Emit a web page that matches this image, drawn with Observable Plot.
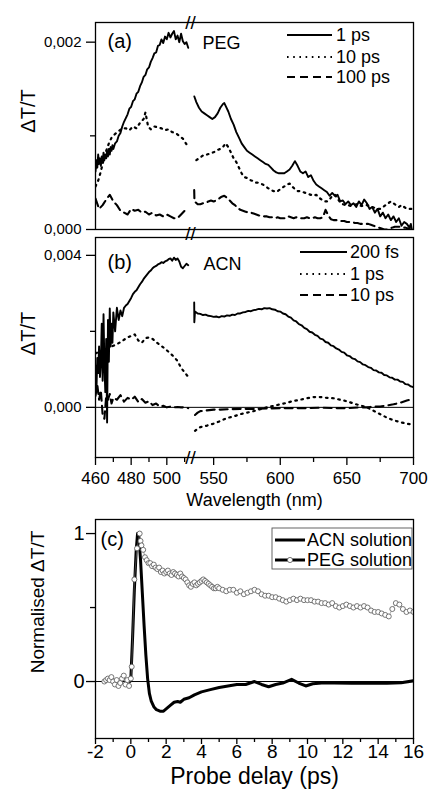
<!DOCTYPE html>
<html><head><meta charset="utf-8">
<script src="https://cdn.jsdelivr.net/npm/d3@7"></script>
<script src="https://cdn.jsdelivr.net/npm/@observablehq/plot@0.6"></script>
<style>
body{margin:0;background:#fff;}
#fig{position:relative;width:432px;height:789px;font-family:"Liberation Sans",Arial,Helvetica,sans-serif;}
#fig svg{display:block;overflow:visible;}
</style></head><body><div id="fig"></div>
<script>
// ---------- DATA (ΔT/T values in units of 10^-3; wavelength in nm; delay in ps) ----------
// Panel (a) PEG, left segment (<513 nm) and right segment (>533 nm)
const peg1ps_L = [[460,0.62],[460.5,0.74],[461,0.66],[461.5,0.80],[462,0.70],[462.5,0.76],[463,0.68],[463.5,0.78],[464,0.72],[464.5,0.82],[465,0.74],[465.5,0.80],[466,0.76],[466.5,0.84],[467,0.78],[467.5,0.86],[468,0.80],[468.5,0.88],[469,0.84],[469.5,0.90],[470,0.86],[471,0.92],[472,0.94],[473,1.00],[474,1.03],[475,1.10],[476,1.15],[477,1.19],[478,1.23],[479,1.29],[480,1.31],[481,1.37],[482,1.39],[483,1.45],[484,1.47],[485,1.53],[486,1.57],[487,1.63],[488,1.65],[489,1.71],[490,1.73],[491,1.79],[492,1.83],[493,1.88],[494,1.89],[495,1.96],[496,1.97],[497,2.03],[498,1.99],[499,2.06],[500,2.03],[501,2.10],[502,2.05],[503,2.09],[504,2.12],[505,2.03],[506,2.07],[507,2.00],[508,2.09],[509,2.01],[510,1.98],[511,2.00],[512,1.94]];
const peg1ps_R = [[535.5,1.42],[537,1.36],[539,1.30],[541,1.26],[543,1.24],[545,1.22],[547,1.20],[549,1.18],[551,1.20],[553,1.24],[555,1.30],[557,1.34],[558,1.35],[559,1.32],[561,1.26],[563,1.18],[565,1.12],[567,1.04],[569,0.98],[571,0.92],[573,0.88],[575,0.84],[577,0.82],[579,0.80],[581,0.78],[583,0.76],[585,0.74],[587,0.72],[589,0.70],[591,0.69],[593,0.66],[595,0.63],[597,0.61],[599,0.60],[601,0.60],[603,0.60],[605,0.62],[607,0.64],[609,0.68],[611,0.73],[613,0.68],[615,0.62],[617,0.60],[619,0.62],[621,0.56],[623,0.58],[625,0.52],[627,0.48],[629,0.46],[631,0.44],[633,0.42],[635,0.40],[637,0.36],[639,0.39],[641,0.36],[643,0.37],[645,0.30],[647,0.31],[649,0.27],[651,0.30],[653,0.26],[655,0.28],[657,0.24],[659,0.30],[661,0.26],[663,0.32],[665,0.28],[667,0.22],[669,0.24],[671,0.18],[673,0.22],[675,0.14],[677,0.18],[679,0.12],[681,0.16],[683,0.10],[685,0.14],[687,0.08],[689,0.12],[691,0.04],[693,0.08],[695,0.06],[697,0.02],[698,0.06],[699,-0.02],[700,-0.06]];
const peg10ps_L = [[460,0.46],[461.5,0.52],[463,0.62],[464.5,0.74],[466,0.84],[467.5,0.92],[469,0.98],[471,1.02],[473,1.05],[475,1.08],[477,1.08],[479,1.06],[481,1.10],[483,1.08],[485,1.14],[487,1.18],[488,1.25],[489.5,1.10],[491,1.07],[493,1.10],[495,1.09],[497,1.08],[499,1.06],[501,1.07],[503,1.04],[505,1.03],[507,1.00],[509,0.97],[511,0.91]];
const peg10ps_R = [[537,0.74],[539,0.76],[541,0.78],[543,0.80],[545,0.80],[547,0.81],[549,0.82],[551,0.83],[553,0.85],[555,0.86],[557,0.88],[559,0.92],[561,0.88],[563,0.82],[565,0.76],[567,0.72],[569,0.66],[571,0.60],[573,0.56],[575,0.55],[577,0.53],[579,0.52],[581,0.50],[583,0.50],[585,0.49],[587,0.48],[589,0.46],[591,0.44],[593,0.42],[595,0.41],[597,0.40],[599,0.42],[601,0.44],[603,0.46],[605,0.48],[607,0.49],[609,0.46],[611,0.43],[613,0.41],[615,0.41],[617,0.40],[619,0.39],[621,0.38],[623,0.37],[625,0.36],[627,0.37],[629,0.34],[631,0.32],[633,0.30],[635,0.30],[637,0.32],[639,0.36],[641,0.37],[643,0.33],[645,0.29],[647,0.27],[649,0.26],[651,0.26],[653,0.25],[655,0.26],[657,0.27],[659,0.26],[661,0.25],[663,0.26],[665,0.26],[667,0.25],[669,0.24],[671,0.23],[673,0.22],[675,0.22],[677,0.24],[679,0.26],[681,0.28],[683,0.30],[685,0.28],[687,0.26],[689,0.24],[691,0.26],[693,0.24],[695,0.22],[697,0.22],[699,0.22],[700,0.20]];
const peg100ps_L = [[460,0.33],[462,0.22],[464,0.26],[466,0.32],[468,0.37],[470,0.30],[472,0.26],[474,0.20],[476,0.18],[478,0.16],[480,0.22],[482,0.20],[484,0.21],[486,0.18],[488,0.19],[490,0.16],[492,0.18],[494,0.15],[496,0.16],[498,0.14],[500,0.16],[502,0.14],[504,0.12],[506,0.12],[508,0.16],[510,0.20],[511.5,0.24]];
const peg100ps_R = [[535.4,0.42],[535.6,0.30],[538,0.27],[540,0.27],[542,0.28],[544,0.28],[546,0.30],[548,0.31],[550,0.30],[552,0.31],[554,0.33],[556,0.35],[558,0.36],[560,0.34],[562,0.31],[564,0.28],[566,0.26],[568,0.23],[570,0.21],[572,0.20],[574,0.19],[576,0.18],[578,0.18],[580,0.17],[582,0.16],[584,0.15],[586,0.15],[588,0.14],[590,0.14],[592,0.13],[594,0.13],[596,0.12],[598,0.13],[600,0.12],[602,0.12],[604,0.12],[606,0.14],[608,0.13],[610,0.12],[612,0.13],[614,0.12],[616,0.12],[618,0.12],[620,0.13],[622,0.12],[624,0.12],[626,0.13],[628,0.12],[630,0.12],[632,0.13],[634,0.21],[636,0.15],[638,0.11],[640,0.10],[642,0.10],[644,0.10],[646,0.09],[648,0.09],[650,0.08],[652,0.08],[654,0.08],[656,0.07],[658,0.07],[660,0.06],[662,0.06],[664,0.06],[666,0.06],[668,0.05],[670,0.04],[672,0.03],[674,0.02],[676,0.01],[678,0.00],[680,0.00],[682,0.01],[684,0.02],[686,0.03],[688,0.03],[690,0.03],[692,0.02],[694,0.02],[696,0.01],[698,0.00],[700,-0.02]];

// Panel (b) ACN
const acn200fs_L = [[460,1.10],[460.5,0.40],[461,1.30],[461.5,0.90],[462,1.60],[462.5,0.80],[463,1.20],[463.5,2.20],[464,0.70],[464.5,2.45],[465,1.10],[465.5,0.40],[466,1.80],[466.5,-0.40],[467,2.30],[467.5,1.20],[468,2.60],[468.5,1.60],[469,2.20],[469.5,1.70],[470,2.50],[471,2.00],[472,2.62],[473,2.30],[474,2.55],[475,2.40],[476,2.62],[477,2.68],[478,2.72],[479,2.80],[480,2.88],[481,2.98],[482,3.04],[483,3.08],[484,3.16],[485,3.24],[486,3.30],[487,3.38],[488,3.44],[489,3.50],[490,3.56],[491,3.60],[492,3.66],[493,3.70],[494,3.72],[495,3.76],[496,3.78],[497,3.82],[498,3.80],[499,3.84],[500,3.86],[501,3.90],[502,3.92],[503,3.86],[504,3.94],[505,3.88],[506,3.92],[507,3.84],[508,3.70],[509,3.66],[510,3.72],[511,3.78],[512,3.74]];
const acn200fs_R = [[535.4,2.76],[535.5,2.24],[536,2.52],[538,2.47],[540,2.46],[542,2.43],[544,2.44],[546,2.41],[548,2.40],[550,2.38],[552,2.39],[554,2.37],[556,2.40],[558,2.39],[560,2.42],[562,2.41],[564,2.44],[566,2.43],[568,2.47],[570,2.47],[572,2.50],[574,2.51],[576,2.54],[578,2.53],[580,2.56],[582,2.57],[584,2.59],[586,2.58],[588,2.61],[590,2.60],[592,2.61],[594,2.58],[596,2.57],[598,2.53],[600,2.52],[602,2.47],[604,2.45],[606,2.39],[608,2.36],[610,2.29],[612,2.26],[614,2.19],[616,2.16],[618,2.09],[620,2.06],[622,1.99],[624,1.97],[626,1.91],[628,1.88],[630,1.81],[632,1.79],[634,1.72],[636,1.70],[638,1.63],[640,1.61],[642,1.55],[644,1.52],[646,1.46],[648,1.44],[650,1.37],[652,1.35],[654,1.29],[656,1.27],[658,1.21],[660,1.19],[662,1.13],[664,1.11],[666,1.06],[668,1.04],[670,0.98],[672,0.97],[674,0.92],[676,0.91],[678,0.85],[680,0.84],[682,0.79],[684,0.78],[686,0.73],[688,0.73],[690,0.68],[692,0.67],[694,0.61],[696,0.60],[698,0.55],[700,0.53]];
const acn1ps_L = [[460,1.42],[462,1.46],[464,1.50],[466,1.54],[468,1.58],[470,1.62],[472,1.66],[474,1.72],[476,1.78],[478,1.84],[480,1.88],[482,1.92],[484,1.76],[486,1.70],[488,1.82],[490,1.84],[492,1.80],[494,1.72],[496,1.65],[498,1.58],[500,1.50],[502,1.42],[504,1.33],[506,1.22],[508,1.04],[510,0.92],[512,0.80]];
const acn1ps_R = [[536,-0.62],[538,-0.56],[540,-0.52],[545,-0.48],[550,-0.43],[555,-0.36],[560,-0.28],[565,-0.24],[570,-0.18],[575,-0.14],[580,-0.10],[585,-0.05],[590,0.00],[595,0.04],[600,0.08],[605,0.12],[610,0.17],[615,0.20],[620,0.24],[625,0.27],[630,0.27],[635,0.25],[640,0.24],[645,0.20],[650,0.16],[655,0.10],[660,0.05],[665,0.00],[670,-0.09],[675,-0.18],[680,-0.27],[685,-0.34],[690,-0.39],[695,-0.43],[700,-0.46]];
const acn10ps_L = [[460,0.30],[461,0.60],[462,0.20],[463,0.45],[464,-0.20],[465,-0.30],[466,0.30],[467,0.20],[468,0.35],[469,0.10],[470,0.25],[472,0.20],[474,0.32],[476,0.15],[478,0.25],[480,0.20],[482,0.28],[484,0.14],[486,0.22],[488,0.12],[490,0.16],[492,0.06],[494,0.10],[496,0.02],[498,0.04],[500,0.00],[502,0.02],[504,0.00],[506,0.01],[508,0.00],[510,0.00],[512,-0.02]];
const acn10ps_R = [[536,-0.20],[538,-0.14],[540,-0.10],[545,-0.08],[550,-0.06],[555,-0.06],[560,-0.05],[570,-0.04],[580,-0.04],[590,-0.03],[600,-0.02],[610,-0.02],[620,-0.02],[630,-0.01],[640,-0.02],[650,-0.02],[660,0.00],[665,0.00],[670,0.02],[675,0.02],[680,0.05],[685,0.08],[690,0.12],[695,0.18],[700,0.22]];

// Panel (c) normalised kinetics
const acnKin = [[-0.05,0],[0,0.02],[0.1,0.3],[0.2,0.62],[0.3,0.88],[0.38,1.0],[0.45,0.98],[0.55,0.82],[0.65,0.6],[0.75,0.38],[0.85,0.18],[0.95,0.02],[1.05,-0.08],[1.15,-0.13],[1.3,-0.17],[1.45,-0.19],[1.65,-0.2],[1.85,-0.2],[2.05,-0.18],[2.25,-0.16],[2.45,-0.14],[2.65,-0.135],[2.8,-0.14],[3.0,-0.12],[3.3,-0.11],[3.6,-0.09],[4.0,-0.07],[4.5,-0.055],[5.0,-0.04],[5.5,-0.03],[6.0,-0.02],[6.5,-0.02],[7.0,0.0],[7.4,-0.02],[7.8,-0.035],[8.2,-0.02],[8.6,-0.01],[9.1,0.015],[9.5,-0.01],[9.9,-0.03],[10.3,-0.015],[10.8,-0.01],[11.5,-0.01],[12.5,-0.012],[13.5,-0.01],[14.5,-0.012],[15.3,-0.008],[16,0.005]];
const pegKin = [[-1.5,0.0],[-1.4,0.01],[-1.3,0.02],[-1.2,0.01],[-1.1,0.03],[-1.0,0.0],[-0.9,-0.02],[-0.8,0.01],[-0.7,-0.03],[-0.6,-0.01],[-0.5,0.02],[-0.4,0.04],[-0.3,-0.02],[-0.2,0.01],[-0.1,-0.03],[0.0,0.02],[0.05,0.1],[0.2,0.69],[0.35,0.9],[0.5,1.0],[0.55,0.95],[0.6,0.92],[0.7,0.89],[0.8,0.84],[0.9,0.82],[1.0,0.80],[1.1,0.80],[1.2,0.78],[1.3,0.79],[1.4,0.77],[1.5,0.76],[1.6,0.77],[1.7,0.74],[1.8,0.75],[1.9,0.73],[2.0,0.74],[2.1,0.75],[2.2,0.73],[2.3,0.72],[2.4,0.74],[2.5,0.73],[2.6,0.72],[2.7,0.71],[2.8,0.73],[2.9,0.71],[3.0,0.70],[3.1,0.69],[3.2,0.67],[3.3,0.65],[3.4,0.64],[3.5,0.66],[3.6,0.67],[3.7,0.65],[3.8,0.66],[3.9,0.67],[4.0,0.68],[4.1,0.69],[4.2,0.68],[4.3,0.67],[4.4,0.66],[4.5,0.65],[4.6,0.64],[4.7,0.63],[4.8,0.63],[4.9,0.64],[5.0,0.63],[5.2,0.62],[5.4,0.61],[5.6,0.62],[5.8,0.62],[6.0,0.60],[6.2,0.61],[6.4,0.59],[6.6,0.60],[6.8,0.61],[7.0,0.62],[7.2,0.61],[7.4,0.59],[7.6,0.58],[7.8,0.58],[8.0,0.57],[8.2,0.57],[8.4,0.56],[8.6,0.55],[8.8,0.54],[9.0,0.55],[9.2,0.56],[9.4,0.55],[9.6,0.56],[9.8,0.55],[10.0,0.55],[10.2,0.55],[10.4,0.54],[10.6,0.54],[10.8,0.53],[11.0,0.53],[11.2,0.52],[11.4,0.53],[11.6,0.51],[11.8,0.50],[12.0,0.51],[12.2,0.52],[12.4,0.51],[12.6,0.50],[12.8,0.51],[13.0,0.50],[13.2,0.51],[13.4,0.50],[13.6,0.48],[13.8,0.47],[14.0,0.47],[14.2,0.46],[14.4,0.45],[14.6,0.44],[14.8,0.49],[15.0,0.53],[15.2,0.52],[15.4,0.49],[15.6,0.47],[15.8,0.48],[16.0,0.47]];

// Ticks and labels
const wlMajor = [460,480,500,550,600,650,700];
const wlMinor = [470,490,510,575,625,675];
const aYMajor = [0,2], aYMinor = [1];
const bYMajor = [0,4], bYMinor = [2];
const cYMajor = [0,1], cYMinor = [0.5];
const cXMajor = [-2,0,2,4,6,8,10,12,14,16];
const cXMinor = [-1,1,3,5,7,9,11,13,15];
const legendA = ["1 ps","10 ps","100 ps"];
const legendB = ["200 fs","1 ps","10 ps"];
const legendC = ["ACN solution","PEG solution"];

// ---------- DRAWING ----------
const FONT = '"Liberation Sans", Arial, Helvetica, sans-serif';
const fmtDT = v => (v/1000).toFixed(3).replace(".", ",");
const xWl = {type:"linear", domain:[460,513,533,700], range:[95,189.5,190.5,413], axis:null};
const STY = {background:"transparent", overflow:"visible", fontFamily:FONT, color:"black"};
const styles = {
  solid: {strokeWidth:1.9},
  dotted: {strokeWidth:2.2, strokeDasharray:"1.6,4.6"},
  dashed: {strokeWidth:2.1, strokeDasharray:"8,5"}
};
const ln = (data, s) => Plot.line(data, {x:d=>d[0], y:d=>d[1], stroke:"black", clip:true, ...styles[s]});
const brk = (anchor, dy=0) => Plot.text([523], {x:d=>d, text:()=>"//", frameAnchor:anchor, lineAnchor:"middle", dy, fontSize:19, fill:"black"});

function legend(svg, labels, kinds, x0, x1, xt, ys) {
  const g = d3.select(svg).append("g").attr("font-family", FONT).attr("font-size", 18).attr("text-anchor", "start");
  labels.forEach((lab, i) => {
    const k = styles[kinds[i]];
    g.append("line").attr("x1", x0).attr("x2", x1).attr("y1", ys[i]).attr("y2", ys[i])
      .attr("stroke", "black").attr("stroke-width", k.strokeWidth)
      .attr("stroke-dasharray", k.strokeDasharray || null);
    g.append("text").attr("x", xt).attr("y", ys[i]).attr("dy", "0.35em").attr("text-anchor", "start").text(lab);
  });
}

const fig = document.getElementById("fig");

// Panel (a)
const plotA = Plot.plot({
  width:432, height:232, marginLeft:95, marginRight:19, marginTop:22, marginBottom:3,
  style:STY, x:xWl, y:{domain:[0,2.21]},
  marks:[
    ln(peg100ps_L,"dashed"), ln(peg100ps_R,"dashed"),
    ln(peg10ps_L,"dotted"), ln(peg10ps_R,"dotted"),
    ln(peg1ps_L,"solid"), ln(peg1ps_R,"solid"),
    Plot.frame({stroke:"black", strokeWidth:1.3}),
    Plot.axisY({ticks:aYMajor, tickSize:9, tickPadding:5, tickFormat:fmtDT, fontSize:15, strokeWidth:1.3, label:null}),
    Plot.axisY({ticks:aYMinor, tickSize:5, text:null, strokeWidth:1.3, label:null}),
    Plot.text(["ΔT/T"], {frameAnchor:"left", dx:-67, dy:-15, rotate:-90, fontSize:20, textAnchor:"middle", lineAnchor:"middle"}),
    Plot.text(["(a)"], {frameAnchor:"top-left", dx:12, dy:19, fontSize:20, textAnchor:"start", lineAnchor:"middle"}),
    Plot.text(["PEG"], {frameAnchor:"top-left", dx:107, dy:21, fontSize:18, textAnchor:"start", lineAnchor:"middle"}),
    brk("top"), brk("bottom", 4)
  ]
});
legend(plotA, legendA, ["solid","dotted","dashed"], 287, 332, 336, [35,57,77]);
fig.appendChild(plotA);

// Panel (b)
const plotB = Plot.plot({
  width:432, height:280, marginLeft:95, marginRight:19, marginTop:5, marginBottom:55,
  style:STY, x:xWl, y:{domain:[-1.32,4.47]},
  marks:[
    Plot.ruleY([0], {stroke:"black", strokeWidth:1}),
    ln(acn10ps_L,"dashed"), ln(acn10ps_R,"dashed"),
    ln(acn1ps_L,"dotted"), ln(acn1ps_R,"dotted"),
    ln(acn200fs_L,"solid"), ln(acn200fs_R,"solid"),
    Plot.frame({stroke:"black", strokeWidth:1.3}),
    Plot.axisY({ticks:bYMajor, tickSize:9, tickPadding:5, tickFormat:fmtDT, fontSize:15, strokeWidth:1.3, label:null}),
    Plot.axisY({ticks:bYMinor, tickSize:5, text:null, strokeWidth:1.3, label:null}),
    Plot.axisX({ticks:wlMajor, tickSize:8, tickPadding:6, tickFormat:d=>String(d), fontSize:17, strokeWidth:1.3, label:null}),
    Plot.axisX({ticks:wlMinor, tickSize:5, text:null, strokeWidth:1.3, label:null}),
    Plot.text(["ΔT/T"], {frameAnchor:"left", dx:-67, dy:-14, rotate:-90, fontSize:20, textAnchor:"middle", lineAnchor:"middle"}),
    Plot.text(["Wavelength (nm)"], {frameAnchor:"bottom", dy:43, fontSize:18, textAnchor:"middle", lineAnchor:"middle"}),
    Plot.text(["(b)"], {frameAnchor:"top-left", dx:12, dy:25, fontSize:20, textAnchor:"start", lineAnchor:"middle"}),
    Plot.text(["ACN"], {frameAnchor:"top-left", dx:108, dy:27, fontSize:18, textAnchor:"start", lineAnchor:"middle"}),
    brk("bottom")
  ]
});
legend(plotB, legendB, ["solid","dotted","dashed"], 300, 347, 350, [20,42,63]);
fig.appendChild(plotB);

// Panel (c)
const plotC = Plot.plot({
  width:432, height:277, marginLeft:95, marginRight:19, marginTop:7, marginBottom:51,
  style:STY, x:{domain:[-2,16], axis:null}, y:{domain:[-0.385,1.095]},
  marks:[
    Plot.ruleY([0], {stroke:"black", strokeWidth:1}),
    Plot.line(acnKin, {x:d=>d[0], y:d=>d[1], stroke:"black", strokeWidth:3, clip:true}),
    Plot.line(pegKin, {x:d=>d[0], y:d=>d[1], stroke:"#777", strokeWidth:0.6, clip:true}),
    Plot.dot(pegKin, {x:d=>d[0], y:d=>d[1], r:2.5, stroke:"#555", strokeWidth:0.8, fill:"white", clip:true}),
    Plot.frame({stroke:"black", strokeWidth:1.3}),
    Plot.axisY({ticks:cYMajor, tickSize:9, tickPadding:2, tickFormat:d=>String(d), fontSize:20, strokeWidth:1.3, label:null}),
    Plot.axisY({ticks:cYMinor, tickSize:5, text:null, strokeWidth:1.3, label:null}),
    Plot.axisX({ticks:cXMajor, tickSize:6, tickPadding:0, tickFormat:d=>String(d), fontSize:19, strokeWidth:1.3, label:null}),
    Plot.axisX({ticks:cXMinor, tickSize:4, text:null, strokeWidth:1.3, label:null}),
    Plot.text(["Normalised ΔT/T"], {frameAnchor:"left", dx:-58, dy:-27, rotate:-90, fontSize:19, textAnchor:"middle", lineAnchor:"middle"}),
    Plot.text(["Probe delay (ps)"], {frameAnchor:"bottom", dy:38, fontSize:23, textAnchor:"middle", lineAnchor:"middle"}),
    Plot.text(["(c)"], {frameAnchor:"top-left", dx:5, dy:20, fontSize:20, textAnchor:"start", lineAnchor:"middle"})
  ]
});
{
  const g = d3.select(plotC).append("g").attr("font-family", FONT).attr("font-size", 18).attr("text-anchor", "start");
  g.append("rect").attr("x", 272).attr("y", 16).attr("width", 140).attr("height", 41)
    .attr("fill", "white").attr("stroke", "#555").attr("stroke-width", 0.9);
  const ys = [28, 48];
  legendC.forEach((lab, i) => {
    g.append("line").attr("x1", 275).attr("x2", 305).attr("y1", ys[i]).attr("y2", ys[i])
      .attr("stroke", "black").attr("stroke-width", 3);
    if (i === 1) g.append("circle").attr("cx", 290).attr("cy", ys[i]).attr("r", 2.6)
      .attr("fill", "white").attr("stroke", "#555").attr("stroke-width", 0.8);
    g.append("text").attr("x", 307).attr("y", ys[i]).attr("dy", "0.35em").attr("text-anchor", "start").text(lab);
  });
}
fig.appendChild(plotC);
</script></body></html>
